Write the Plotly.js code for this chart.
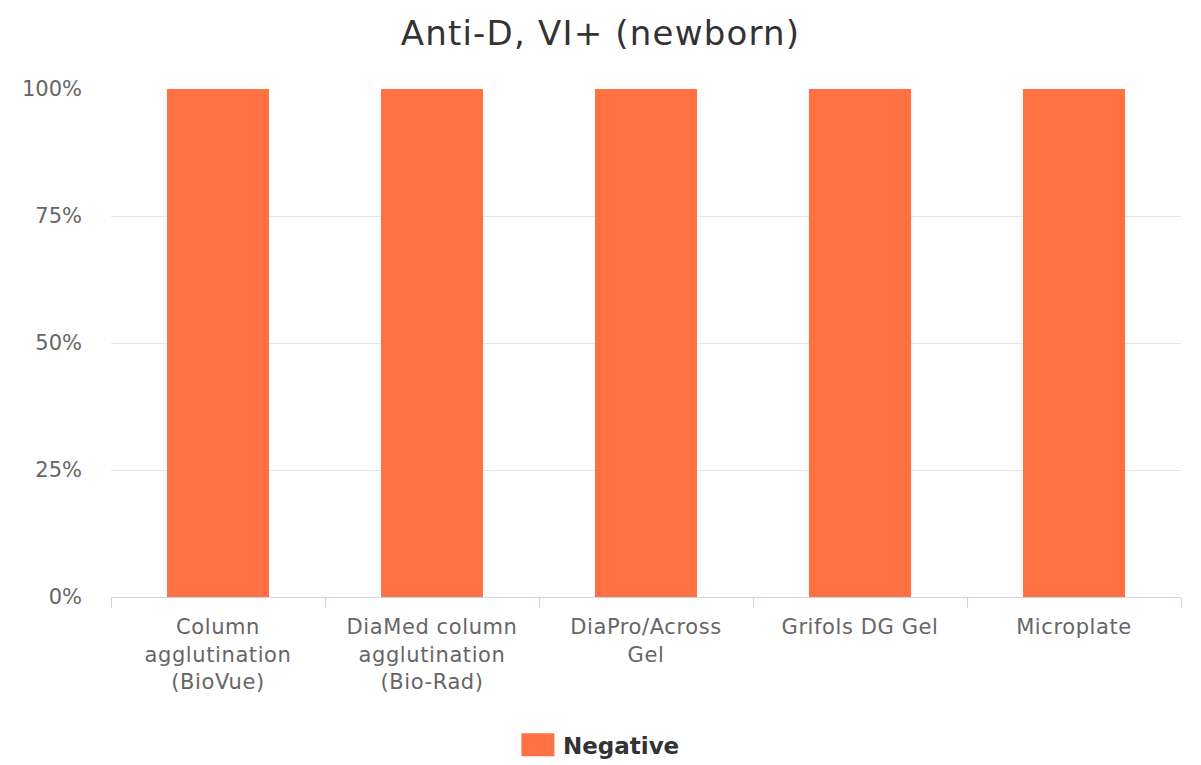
<!DOCTYPE html>
<html>
<head>
<meta charset="utf-8">
<script src="https://cdn.plot.ly/plotly-3.0.1.min.js"></script>
<style>
html,body{margin:0;padding:0;background:#fff;}
#chart{width:1201px;height:765px;}
#chart .gtitle{letter-spacing:1.2px;}
#chart .xtick text{letter-spacing:0.6px;}
</style>
</head>
<body>
<div id="chart"></div>
<script>
var categories = [
  "Column<br>agglutination<br>(BioVue)",
  "DiaMed column<br>agglutination<br>(Bio-Rad)",
  "DiaPro/Across<br>Gel",
  "Grifols DG Gel",
  "Microplate"
];
var seriesName = "Negative";
var negativeValues = [100, 100, 100, 100, 100];
var yTickValues = [0, 25, 50, 75, 100];
var yTickLabels = ["0%", "25%", "50%", "75%", "100%"];

var trace = {
  type: "bar",
  x: categories,
  y: negativeValues,
  name: seriesName,
  marker: {color: "#FF7043"},
  hoverinfo: "x+y"
};

var layout = {
  width: 1201,
  height: 765,
  margin: {l: 111, r: 20, t: 89, b: 168, autoexpand: false},
  paper_bgcolor: "#ffffff",
  plot_bgcolor: "#ffffff",
  font: {family: "DejaVu Sans, sans-serif", color: "#666666", size: 21},
  title: {
    text: "Anti-D, VI+ (newborn)",
    font: {family: "DejaVu Sans, sans-serif", size: 34, color: "#333333"},
    x: 0.5, xanchor: "center",
    y: 0.957, yanchor: "middle"
  },
  bargap: 0.523,
  showlegend: true,
  legend: {
    orientation: "h",
    x: 0.456, xanchor: "center",
    y: -0.291, yanchor: "middle",
    itemwidth: 40,
    font: {family: "DejaVu Sans, sans-serif", size: 23, color: "#333333", weight: "bold"}
  },
  xaxis: {
    type: "category",
    showline: true,
    linecolor: "#ccd6eb",
    linewidth: 1,
    ticks: "outside",
    tickson: "boundaries",
    ticklen: 10,
    tickcolor: "#ccd6eb",
    ticklabelstandoff: 11,
    tickfont: {family: "DejaVu Sans, sans-serif", size: 21, color: "#666666"},
    showgrid: false,
    automargin: false,
    fixedrange: true
  },
  yaxis: {
    range: [0, 100],
    tickvals: yTickValues,
    ticktext: yTickLabels,
    showgrid: true,
    gridcolor: "#e6e6e6",
    gridwidth: 1,
    zeroline: false,
    showline: false,
    ticks: "",
    ticklabelstandoff: 28,
    tickfont: {family: "DejaVu Sans, sans-serif", size: 21, color: "#666666"},
    automargin: false,
    fixedrange: true
  }
};

Plotly.newPlot("chart", [trace], layout, {displayModeBar: false, staticPlot: true}).then(function () {
  var pts = document.querySelectorAll(".legend .legendpoints path");
  pts.forEach(function (p) {
    p.setAttribute("d", "M-16.5,-11.5H16.5V11.5H-16.5Z");
  });
});
</script>
</body>
</html>
